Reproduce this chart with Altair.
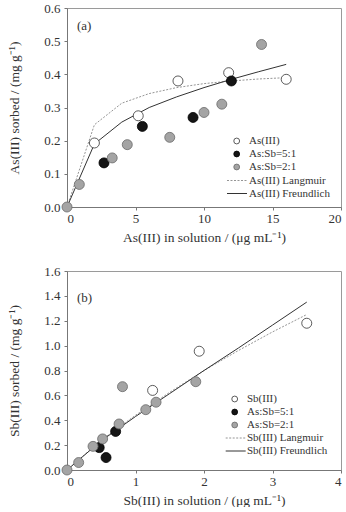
import altair as alt
import pandas as pd

FONT = "Liberation Serif"
TXT = "#333333"

# ---------------- Panel (a): As(III) sorption ----------------
as_only_x = [2.0, 5.2, 8.1, 11.8, 16.0]
as_only_y = [0.193, 0.275, 0.380, 0.405, 0.385]
as51_x = [2.7, 5.5, 9.2, 12.0]
as51_y = [0.133, 0.243, 0.270, 0.380]
as21_x = [0.0, 0.9, 3.3, 4.4, 7.5, 10.0, 11.3, 14.2]
as21_y = [0.0, 0.068, 0.148, 0.188, 0.210, 0.285, 0.310, 0.490]
as_fit_x = [0, 2, 4, 6, 8, 10, 12, 14, 16]
as_langmuir_y = [0, 0.248, 0.313, 0.342, 0.360, 0.372, 0.380, 0.386, 0.390]
as_freundlich_y = [0, 0.190, 0.256, 0.300, 0.332, 0.360, 0.385, 0.408, 0.430]
as_labels = ["As(III)", "As:Sb=5:1", "As:Sb=2:1", "As(III) Langmuir", "As(III) Freundlich"]

# ---------------- Panel (b): Sb(III) sorption ----------------
sb_only_x = [1.25, 1.93, 3.5]
sb_only_y = [0.64, 0.955, 1.18]
sb51_x = [0.47, 0.57, 0.71]
sb51_y = [0.18, 0.10, 0.31]
sb21_x = [0.0, 0.17, 0.38, 0.52, 0.76, 0.81, 1.15, 1.30, 1.88]
sb21_y = [0.0, 0.06, 0.19, 0.25, 0.37, 0.67, 0.485, 0.545, 0.71]
sb_fit_x = [0, 0.5, 1.0, 1.5, 2.0, 2.5, 3.0, 3.5]
sb_langmuir_y = [0, 0.24, 0.44, 0.625, 0.80, 0.96, 1.11, 1.25]
sb_freundlich_y = [0, 0.235, 0.43, 0.615, 0.80, 0.98, 1.165, 1.35]
sb_labels = ["Sb(III)", "As:Sb=5:1", "As:Sb=2:1", "Sb(III) Langmuir", "Sb(III) Freundlich"]

# marker styles: (fill, stroke)
OPEN = ("#ffffff", "#333333")
BLACK = ("#151515", "#000000")
GREY = ("#a4a4a4", "#6a6a6a")
LANG = dict(color="#7a7a7a", strokeWidth=0.8, strokeDash=[2, 1.5])
FREU = dict(color="#333333", strokeWidth=1.0)

W, H = 274, 199


def enc(xdom, xticks, xtitle, ydom, yticks, ytitle):
    x = alt.X("x:Q", scale=alt.Scale(domain=xdom, nice=False, zero=False),
              axis=alt.Axis(values=xticks, format="d", title=xtitle))
    y = alt.Y("y:Q", scale=alt.Scale(domain=ydom, nice=False, zero=False),
              axis=alt.Axis(values=yticks, format=".1f", title=ytitle))
    return x, y


def points(xs, ys, style, x, y):
    df = pd.DataFrame({"x": xs, "y": ys})
    return alt.Chart(df).mark_point(
        shape="circle", filled=True, size=100, fill=style[0], stroke=style[1],
        strokeWidth=0.8, opacity=1).encode(x=x, y=y)


def line(xs, ys, style, x, y):
    df = pd.DataFrame({"x": xs, "y": ys})
    return alt.Chart(df).mark_line(**style).encode(x=x, y=y)


def legend(labels, rows, cx, tx, lx):
    layers = []
    styles = [OPEN, BLACK, GREY]
    for i, lab in enumerate(labels):
        d = pd.DataFrame({"label": [lab]})
        if i < 3:
            layers.append(alt.Chart(d).mark_point(
                shape="circle", filled=True, size=34, fill=styles[i][0],
                stroke=styles[i][1], strokeWidth=0.8, opacity=1
            ).encode(x=alt.value(cx), y=alt.value(rows[i])))
        else:
            st = LANG if i == 3 else FREU
            layers.append(alt.Chart(d).mark_rule(**st).encode(
                x=alt.value(lx[0]), x2=alt.value(lx[1]), y=alt.value(rows[i])))
        layers.append(alt.Chart(d).mark_text(
            align="left", baseline="middle", font=FONT, fontSize=11, color=TXT
        ).encode(text="label:N", x=alt.value(tx), y=alt.value(rows[i])))
    return layers


def tag(text, px, py):
    return alt.Chart(pd.DataFrame({"t": [text]})).mark_text(
        align="left", baseline="middle", font=FONT, fontSize=13, color=TXT
    ).encode(text="t:N", x=alt.value(px), y=alt.value(py))


xa, ya = enc([0, 20], [0, 5, 10, 15, 20], "As(III) in solution / (μg mL⁻¹)",
             [0, 0.6], [0, 0.1, 0.2, 0.3, 0.4, 0.5, 0.6], "As(III) sorbed / (mg g⁻¹)")
panel_a = alt.layer(
    line(as_fit_x, as_langmuir_y, LANG, xa, ya),
    line(as_fit_x, as_freundlich_y, FREU, xa, ya),
    points(as_only_x, as_only_y, OPEN, xa, ya),
    points(as51_x, as51_y, BLACK, xa, ya),
    points(as21_x, as21_y, GREY, xa, ya),
    tag("(a)", 10, 17.5),
    *legend(as_labels, [133, 146, 159, 172.5, 185.5], 169.7, 182, (160, 180)),
).properties(width=W, height=H)

xb, yb = enc([0, 4], [0, 1, 2, 3, 4], "Sb(III) in solution / (μg mL⁻¹)",
             [0, 1.6], [0, 0.2, 0.4, 0.6, 0.8, 1.0, 1.2, 1.4, 1.6], "Sb(III) sorbed / (mg g⁻¹)")
panel_b = alt.layer(
    line(sb_fit_x, sb_langmuir_y, LANG, xb, yb),
    line(sb_fit_x, sb_freundlich_y, FREU, xb, yb),
    points(sb_only_x, sb_only_y, OPEN, xb, yb),
    points(sb51_x, sb51_y, BLACK, xb, yb),
    points(sb21_x, sb21_y, GREY, xb, yb),
    tag("(b)", 10, 27),
    *legend(sb_labels, [128, 141, 154, 167, 180], 167.7, 180, (158.7, 178.7)),
).properties(width=W, height=H)

chart = alt.vconcat(panel_a, panel_b, spacing=20).properties(
    padding={"left": 7, "top": 1, "right": 0, "bottom": 0},
    background="white",
).configure_view(
    stroke="#9a9a9a", strokeWidth=1
).configure_axis(
    grid=False, domainColor="#777777", tickColor="#777777", tickSize=3,
    labelFont=FONT, labelFontSize=13, labelColor=TXT,
    titleFont=FONT, titleFontSize=13.5, titleFontWeight="normal", titleColor=TXT,
).configure_axisX(
    labelPadding=2, titlePadding=5
).configure_axisY(
    labelPadding=4, titlePadding=22
)

chart.save("out.html", embed_options={"renderer": "svg", "actions": False})
